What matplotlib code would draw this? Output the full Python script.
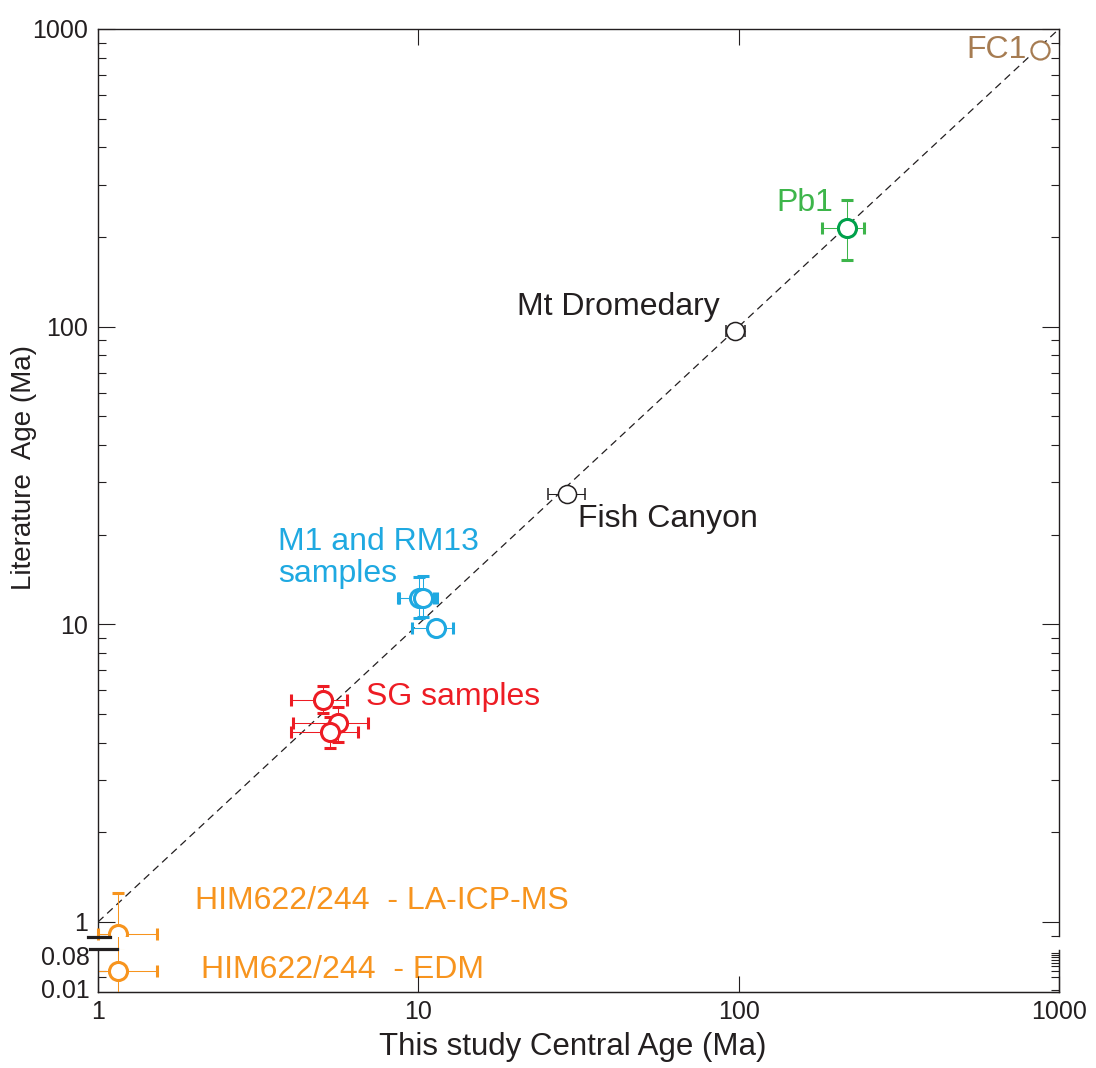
import matplotlib
matplotlib.use("Agg")
import matplotlib.pyplot as plt
from matplotlib.lines import Line2D
from matplotlib.ticker import FixedLocator, NullLocator, LogLocator, NullFormatter

plt.rcParams['font.family'] = ['Liberation Sans', 'DejaVu Sans']

INK = '#231F20'
ORANGE = '#F7941E'
RED = '#ED1C24'
CYAN = '#1FA9E1'
GREEN_DARK = '#00A14B'
GREEN = '#3DB54A'
BROWN = '#A67C52'

# ---- data (central age vs literature age, Ma) ----
fc1_x = [873]
fc1_y = [849]

pb1_x = [218]
pb1_y = [214]
pb1_xlo, pb1_xhi = [182], [246]
pb1_ylo, pb1_yhi = [167], [266]

mtd_x = [97.4]
mtd_y = [96.7]
mtd_xlo, mtd_xhi = [91.5], [104.5]

fcan_x = [29.1]
fcan_y = [27.4]
fcan_xlo, fcan_xhi = [25.4], [33.1]

m1_x = [10.05, 10.35, 11.36]
m1_y = [12.3, 12.25, 9.74]
m1_xlo = [8.65, 8.7, 9.53]
m1_xhi = [11.2, 11.4, 12.86]
m1_ylo = [10.5, 10.6, 9.45]
m1_yhi = [14.4, 14.5, 10.1]

sg_x = [5.05, 5.60, 5.30]
sg_y = [5.57, 4.67, 4.36]
sg_xlo = [4.0, 4.06, 4.0]
sg_xhi = [5.98, 6.97, 6.48]
sg_ylo = [5.04, 4.03, 3.84]
sg_yhi = [6.22, 5.29, 4.9]

him_la_x = [1.155]
him_la_y = [0.91]
him_la_xlo, him_la_xhi = [1.0], [1.53]
him_la_ylo, him_la_yhi = [0.80], [1.25]

him_edm_x = [1.155]
him_edm_y = [0.029]
him_edm_xlo, him_edm_xhi = [0.9], [1.53]
him_edm_ylo, him_edm_yhi = [0.004], [0.2]

one_to_one = [1, 1000]


def err(v, lo, hi):
    return [[a - b for a, b in zip(v, lo)], [c - a for a, c in zip(v, hi)]]


def group(ax, x, y, xlo=None, xhi=None, ylo=None, yhi=None, color=INK,
          edge=None, ms=13, mew=2.2, clip=True):
    xe = err(x, xlo, xhi) if xlo is not None else None
    ye = err(y, ylo, yhi) if ylo is not None else None
    eb = ax.errorbar(x, y, xerr=xe, yerr=ye, fmt='o', markersize=ms,
                     markerfacecolor='white', markeredgecolor=edge or color,
                     markeredgewidth=mew, ecolor=color, elinewidth=0.75,
                     capsize=4.3, capthick=0.75, zorder=4)
    if not clip:
        for art in eb.lines[1]:
            art.set_clip_on(False)
        for coll in eb.lines[2]:
            coll.set_clip_on(False)


fig = plt.figure(figsize=(10.96, 10.68), dpi=100)
W, H = 1096, 1068
x0, x1 = 98, 1059
ax = fig.add_axes([x0 / W, 1 - 936 / H, (x1 - x0) / W, (936 - 29) / H])
axl = fig.add_axes([x0 / W, 1 - 992 / H, (x1 - x0) / W, (992 - 950) / H])

for a in (ax, axl):
    a.set_xscale('log')
    a.set_yscale('log')
    a.set_xlim(1, 1000)
    for s in a.spines.values():
        s.set_color(INK)
        s.set_linewidth(1.0)

ax.set_ylim(0.897, 1000)
axl.set_ylim(0.0078, 0.11)

# main axes ticks
ax.spines['bottom'].set_visible(False)
ax.xaxis.set_major_locator(FixedLocator([1, 10, 100, 1000]))
ax.xaxis.set_minor_locator(NullLocator())
ax.tick_params(axis='x', which='major', direction='in', top=True, bottom=False,
               labelbottom=False, length=11.5, width=0.8, color=INK)
ax.yaxis.set_major_locator(FixedLocator([1, 10, 100, 1000]))
ax.set_yticklabels(['1', '10', '100', '1000'])
ax.yaxis.set_minor_locator(LogLocator(base=10, subs=range(2, 10)))
ax.yaxis.set_minor_formatter(NullFormatter())
ax.tick_params(axis='y', which='major', direction='in', left=True, right=True,
               length=12, width=0.8, color=INK, labelsize=18, labelcolor=INK, pad=7)
ax.tick_params(axis='y', which='minor', direction='in', left=True, right=True,
               length=6, width=0.8, color=INK)

# lower (broken) axes ticks
axl.spines['top'].set_visible(False)
axl.xaxis.set_major_locator(FixedLocator([1, 10, 100, 1000]))
axl.set_xticklabels(['1', '10', '100', '1000'])
axl.xaxis.set_minor_locator(NullLocator())
axl.tick_params(axis='x', which='major', direction='in', length=11.5, width=0.8,
                color=INK, labelsize=18, labelcolor=INK, pad=6)
axl.yaxis.set_major_locator(FixedLocator([0.01, 0.08]))
axl.set_yticklabels(['0.01', '0.08'])
axl.yaxis.set_minor_locator(FixedLocator([0.02, 0.03]))
axl.yaxis.set_minor_formatter(NullFormatter())
axl.tick_params(axis='y', which='major', length=0, labelsize=18, labelcolor=INK, pad=6)
axl.tick_params(axis='y', which='minor', direction='in', length=6, width=0.8, color=INK)

axr = axl.twinx()
axr.set_yscale('log')
axr.set_ylim(axl.get_ylim())
axr.yaxis.set_major_locator(NullLocator())
axr.yaxis.set_minor_locator(LogLocator(base=10, subs=range(2, 10)))
axr.yaxis.set_minor_formatter(NullFormatter())
axr.tick_params(axis='y', which='minor', direction='in', length=6, width=0.8, color=INK)
axr.spines['top'].set_visible(False)
for s in axr.spines.values():
    s.set_color(INK)

# 1:1 line
ax.plot(one_to_one, one_to_one, color=INK, lw=0.9, ls=(0, (6, 4)), zorder=2)

# data groups
group(ax, fc1_x, fc1_y, color=BROWN, ms=13, mew=1.6)
group(ax, pb1_x, pb1_y, pb1_xlo, pb1_xhi, pb1_ylo, pb1_yhi, color=GREEN, edge=GREEN_DARK)
group(ax, mtd_x, mtd_y, mtd_xlo, mtd_xhi, color=INK, ms=13, mew=1.1)
group(ax, fcan_x, fcan_y, fcan_xlo, fcan_xhi, color=INK, ms=13, mew=1.1)
group(ax, m1_x, m1_y, m1_xlo, m1_xhi, m1_ylo, m1_yhi, color=CYAN)
group(ax, sg_x, sg_y, sg_xlo, sg_xhi, sg_ylo, sg_yhi, color=RED)
group(ax, him_la_x, him_la_y, him_la_xlo, him_la_xhi, him_la_ylo, him_la_yhi,
      color=ORANGE, clip=False)
group(axl, him_edm_x, him_edm_y, him_edm_xlo, him_edm_xhi, him_edm_ylo, him_edm_yhi,
      color=ORANGE)

# labels
fs = 23
ax.text(795, 849, 'FC1', color=BROWN, fontsize=fs, ha='right', va='center')
ax.text(131, 260, 'Pb1', color=GREEN, fontsize=fs, ha='left', va='center')
ax.text(87.5, 116, 'Mt Dromedary', color=INK, fontsize=fs, ha='right', va='center')
ax.text(31.5, 22.6, 'Fish Canyon', color=INK, fontsize=fs, ha='left', va='center')
ax.text(3.65, 16.7, 'M1 and RM13\nsamples', color=CYAN, fontsize=fs, ha='left',
        va='center', linespacing=1.05)
ax.text(6.87, 5.70, 'SG samples', color=RED, fontsize=fs, ha='left', va='center')
ax.text(2.01, 1.176, 'HIM622/244  - LA-ICP-MS', color=ORANGE, fontsize=fs,
        ha='left', va='center')
axl.text(2.10, 0.031, 'HIM622/244  - EDM', color=ORANGE, fontsize=fs,
         ha='left', va='center', zorder=1)

fig.text(573 / W, 1 - 1047 / H, 'This study Central Age (Ma)', fontsize=22.5,
         color=INK, ha='center', va='center')
fig.text(24 / W, 1 - 468 / H, 'Literature  Age (Ma)', fontsize=20, color=INK,
         ha='center', va='center', rotation=90)

# axis break marks
fig.add_artist(Line2D([88 / W, 110 / W], [1 - 937 / H] * 2, lw=2.3, color=INK))
fig.add_artist(Line2D([90 / W, 117 / W], [1 - 949 / H] * 2, lw=2.3, color=INK))

fig.savefig('out.png', dpi=100)
